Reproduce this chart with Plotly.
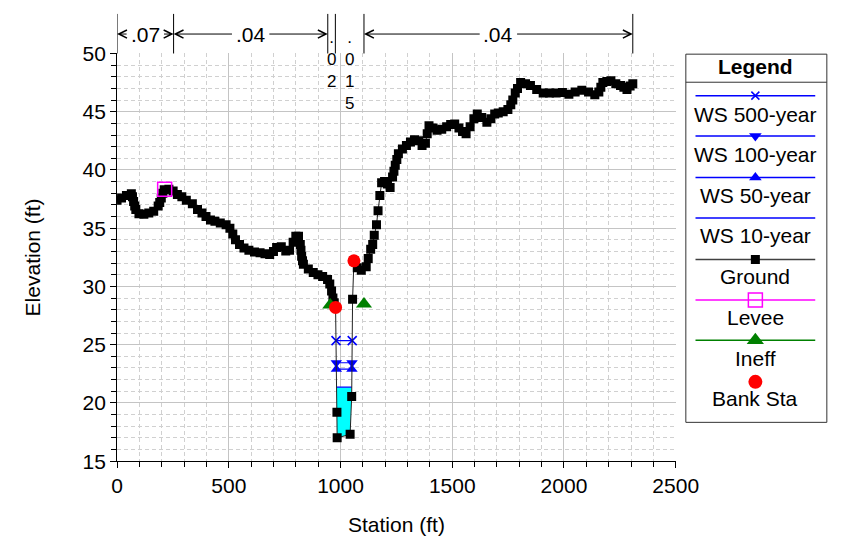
import numpy as np
import plotly.graph_objects as go

W, H = 845, 549

# ---------------- data ----------------
station = [0, 20, 42, 64, 69, 74, 79, 84, 98, 120, 142, 164, 184, 191, 198, 205, 211, 232, 251,
           270, 290, 310, 337, 360, 380, 398, 418, 438, 462, 488, 505, 518, 530, 548, 568, 590,
           615, 640, 662, 683, 700, 714, 735, 755, 772, 788, 800, 812, 820, 823, 826, 830, 834,
           856, 878, 899, 920, 942, 952, 960, 966, 972, 978, 984, 985, 1043, 1050, 1054, 1060,
           1075, 1093, 1115, 1124, 1135, 1144, 1151, 1161, 1168, 1176, 1184, 1197, 1210, 1222,
           1233, 1239, 1245, 1252, 1259, 1277, 1295, 1313, 1331, 1350, 1365, 1380, 1388, 1396,
           1414, 1432, 1453, 1475, 1493, 1511, 1530, 1546, 1562, 1580, 1597, 1612, 1632, 1655,
           1673, 1690, 1706, 1728, 1749, 1762, 1771, 1782, 1792, 1806, 1828, 1850, 1878, 1907,
           1935, 1965, 1993, 2022, 2050, 2080, 2110, 2138, 2156, 2165, 2174, 2192, 2210, 2232,
           2253, 2268, 2282, 2296, 2308]
elevation = [37.4, 37.6, 37.8, 37.95, 37.7, 37.3, 36.9, 36.6, 36.25, 36.2, 36.3, 36.45, 36.9,
             37.2, 37.6, 38.0, 38.3, 38.35, 38.2, 37.9, 37.7, 37.4, 37.1, 36.6, 36.3, 36.0, 35.7,
             35.6, 35.45, 35.3, 35.0, 34.5, 34.0, 33.6, 33.3, 33.1, 32.95, 32.9, 32.8, 32.75,
             33.0, 33.35, 33.4, 33.05, 33.1, 33.8, 34.3, 34.3, 33.6, 33.1, 32.6, 32.2, 31.9,
             31.5, 31.2, 31.0, 30.85, 30.6, 30.2, 29.6, 29.0, 28.6, 28.2, 19.2, 17.0, 17.3,
             20.55, 28.9, 32.2, 31.6, 31.4, 31.7, 32.4, 33.2, 33.6, 34.4, 35.3, 36.5, 37.8,
             38.9, 39.0, 38.8, 38.5, 39.4, 39.9, 40.4, 40.9, 41.4, 41.8, 42.1, 42.4, 42.6, 42.5,
             42.1, 42.3, 43.1, 43.8, 43.6, 43.4, 43.5, 43.7, 43.9, 43.95, 43.6, 43.3, 43.1,
             43.7, 44.4, 44.8, 44.5, 44.1, 44.4, 44.8, 44.9, 45.0, 45.2, 45.6, 46.0, 46.6, 47.0,
             47.5, 47.4, 47.25, 46.9, 46.6, 46.6, 46.6, 46.65, 46.5, 46.7, 46.85, 46.7, 46.45,
             46.7, 47.1, 47.5, 47.6, 47.65, 47.4, 47.25, 47.1, 46.9, 47.2, 47.4]

levee_sta = [213]
levee_elev = [38.35]
bank_sta = [978, 1060]
bank_elev = [28.2, 32.2]
ineff_sta = [954, 1105]
ineff_elev = [28.4, 28.5]

ws_names = ["WS 500-year", "WS 100-year", "WS 50-year", "WS 10-year"]
ws_elev = [25.35, 23.45, 22.9, 21.35]

n_bounds = [0, 253, 943, 977, 1105, 2308]
n_values = [".07", ".04", ".02", ".015", ".04"]

x_ticks = [0, 500, 1000, 1500, 2000, 2500]
y_ticks = [15, 20, 25, 30, 35, 40, 45, 50]

# ---------------- layout geometry (pixels) ----------------
PL, PR, PT, PB = 115.0, 693.5, 43.3, 468.8
FONT = "Liberation Sans, Arial, sans-serif"
FS = 21
BLUE = "#0000ff"


def px(v):
    return v / W


def py(v):
    return 1 - v / H


def wet_extent(ws):
    sta = np.array(station, float)
    el = np.array(elevation, float)
    i0 = int(np.argmin(el))
    i = i0
    while i > 0 and el[i - 1] < ws:
        i -= 1
    xl = sta[i - 1] + (ws - el[i - 1]) * (sta[i] - sta[i - 1]) / (el[i] - el[i - 1])
    j = i0
    while j < len(el) - 1 and el[j + 1] < ws:
        j += 1
    xr = sta[j] + (ws - el[j]) * (sta[j + 1] - sta[j]) / (el[j + 1] - el[j])
    return xl, xr, i, j


fig = go.Figure()

# water fill for the lowest profile
ws10 = ws_elev[3]
xl, xr, i, j = wet_extent(ws10)
poly_x = [xl] + station[i:j + 1] + [xr, xl]
poly_y = [ws10] + elevation[i:j + 1] + [ws10, ws10]
fig.add_trace(go.Scatter(x=poly_x, y=poly_y, mode="lines", fill="toself",
                         fillcolor="#00ffff", line=dict(color="rgba(0,0,0,0)", width=0),
                         hoverinfo="skip"))

ws_symbols = ["x-thin", "triangle-down", "triangle-up", None]
for name, ws, sym in zip(ws_names, ws_elev, ws_symbols):
    a, b, _, _ = wet_extent(ws)
    if sym is None:
        fig.add_trace(go.Scatter(x=[a, b], y=[ws, ws], mode="lines", name=name,
                                 line=dict(color=BLUE, width=1.2)))
    else:
        fig.add_trace(go.Scatter(x=[a, b], y=[ws, ws], mode="lines+markers", name=name,
                                 line=dict(color=BLUE, width=1.2),
                                 marker=dict(symbol=sym, size=10 if sym != "x-thin" else 9,
                                             color=BLUE,
                                             line=dict(color=BLUE, width=1.6 if sym == "x-thin" else 0))))

fig.add_trace(go.Scatter(x=station, y=elevation, mode="lines+markers", name="Ground",
                         line=dict(color="#222222", width=1),
                         marker=dict(symbol="square", size=9, color="black")))
fig.add_trace(go.Scatter(x=levee_sta, y=levee_elev, mode="markers", name="Levee",
                         marker=dict(symbol="square-open", size=14, color="#ff00ff",
                                     line=dict(color="#ff00ff", width=1.5))))
fig.add_trace(go.Scatter(x=ineff_sta, y=ineff_elev, mode="markers", name="Ineff",
                         marker=dict(symbol="triangle-up", size=14, color="#008000")))
fig.add_trace(go.Scatter(x=bank_sta, y=bank_elev, mode="markers", name="Bank Sta",
                         marker=dict(symbol="circle", size=13, color="#ff0000")))

# ---------------- custom legend (pixel-unit helper axes) ----------------
LX0, LX1, LY0, LY1 = 704.0, 850, 44.0, 428.3
legend_items = [
    ("WS 500-year", 87.3, 106.7, BLUE, "x-thin", 8, True),
    ("WS 100-year", 129.3, 148.3, BLUE, "triangle-down", 11, True),
    ("WS 50-year", 172.7, 191.7, BLUE, "triangle-up", 11, True),
    ("WS 10-year", 215.0, 233.3, BLUE, None, 0, True),
    ("Ground", 258.3, 276.0, "#404040", "square", 9, True),
    ("Levee", 300.7, 319.3, "#ff00ff", "square-open", 14, True),
    ("Ineff", 342.7, 361.7, "#008000", "triangle-up", 15, True),
    ("Bank Sta", 386.0, 403.3, "#ff0000", "circle", 14, False),
]
mcol = {"square": "black"}
for label, ly, ty, col, sym, size, has_line in legend_items:
    if has_line:
        fig.add_trace(go.Scatter(x=[714, 838], y=[ly, ly], xaxis="x2", yaxis="y2",
                                 mode="lines", line=dict(color=col, width=1.5), hoverinfo="skip"))
    if sym:
        c = mcol.get(sym, col)
        fig.add_trace(go.Scatter(x=[776], y=[ly], xaxis="x2", yaxis="y2", mode="markers",
                                 marker=dict(symbol=sym, size=size, color=c,
                                             line=dict(color=c, width=1.5 if ("open" in sym or "thin" in sym) else 0)),
                                 hoverinfo="skip"))

annotations = []
shapes = []
for label, ly, ty, col, sym, size, has_line in legend_items:
    annotations.append(dict(text=label, x=776, y=ty, xref="x2", yref="y2", showarrow=False,
                            font=dict(family=FONT, size=FS, color="black"),
                            xanchor="center", yanchor="middle"))
annotations.append(dict(text="<b>Legend</b>", x=776, y=57, xref="x2", yref="y2", showarrow=False,
                        font=dict(family=FONT, size=FS, color="black"),
                        xanchor="center", yanchor="middle"))
shapes.append(dict(type="rect", xref="paper", yref="paper", x0=px(LX0), x1=px(LX1),
                   y0=py(LY1), y1=py(LY0), line=dict(color="#333333", width=1)))
shapes.append(dict(type="line", xref="paper", yref="paper", x0=px(LX0), x1=px(LX1),
                   y0=py(73.3), y1=py(73.3), line=dict(color="#333333", width=1)))

# ---------------- Manning's n zones above the plot ----------------
for b in n_bounds:
    shapes.append(dict(type="line", xref="x", yref="paper", x0=b, x1=b,
                       y0=py(PT), y1=py(2), line=dict(color="black", width=1)))

scale = (PR - PL) / 2500.0
ARROW_Y = 23
for (a, b), txt in zip(zip(n_bounds[:-1], n_bounds[1:]), n_values):
    width_px = (b - a) * scale
    c = (a + b) / 2
    if width_px > 45:
        annotations.append(dict(text=txt, x=c, y=py(ARROW_Y), xref="x", yref="paper",
                                showarrow=False, font=dict(family=FONT, size=FS, color="black"),
                                xanchor="center", yanchor="middle"))
        half = (len(txt) * 0.47 * FS) / 2 + 3
        half_sta = half / scale
        for head, tail in ((a, c - half_sta), (b, c + half_sta)):
            annotations.append(dict(text="", x=head, y=py(ARROW_Y), xref="x", yref="paper",
                                    ax=tail, ay=0, axref="x", ayref="pixel",
                                    showarrow=True, arrowhead=5, arrowsize=1.6,
                                    arrowwidth=1, arrowcolor="black"))
    else:
        # narrow zone: characters stacked vertically in one text, as in the reference
        annotations.append(dict(text="<br>".join(list(txt)), x=c, y=py(16), xref="x",
                                yref="paper", showarrow=False,
                                font=dict(family=FONT, size=17, color="black"),
                                xanchor="center", yanchor="top", align="center", borderpad=0))

# axis titles
annotations.append(dict(text="Station (ft)", x=px((PL + PR) / 2), y=py(535), xref="paper",
                        yref="paper", showarrow=False, font=dict(family=FONT, size=FS),
                        xanchor="center", yanchor="middle"))
annotations.append(dict(text="Elevation (ft)", x=px(27), y=py((PT + PB) / 2), xref="paper",
                        yref="paper", showarrow=False, textangle=-90,
                        font=dict(family=FONT, size=FS), xanchor="center", yanchor="middle"))

axis_common = dict(showline=True, linecolor="black", linewidth=1, ticks="outside",
                   ticklen=6, tickcolor="black", showgrid=True, gridcolor="#c4c4c4",
                   gridwidth=1, zeroline=False, tickfont=dict(family=FONT, size=FS, color="black"))

fig.update_layout(
    width=W, height=H, margin=dict(l=0, r=0, t=0, b=0),
    paper_bgcolor="white", plot_bgcolor="white", showlegend=False,
    font=dict(family=FONT, size=FS, color="black"),
    xaxis=dict(domain=[px(PL), px(PR)], range=[0, 2500], tickvals=x_ticks,
               minor=dict(dtick=100, tick0=0, ticklen=5, tickcolor="black", ticks="outside",
                          showgrid=True, gridcolor="#d0d0d0", griddash="4px,3px"),
               anchor="y", **axis_common),
    yaxis=dict(domain=[py(PB), py(PT)], range=[15, 50], tickvals=y_ticks,
               minor=dict(dtick=1, tick0=15, ticklen=5, tickcolor="black", ticks="outside",
                          showgrid=True, gridcolor="#d0d0d0", griddash="4px,3px"),
               anchor="x", **axis_common),
    xaxis2=dict(domain=[px(LX0), 1], range=[LX0, W], visible=False, anchor="y2"),
    yaxis2=dict(domain=[py(LY1), py(LY0)], range=[LY1, LY0], visible=False, anchor="x2"),
    annotations=annotations, shapes=shapes,
)

fig.write_html("out.html", config={"displayModeBar": False},
               post_script="document.body.style.margin='0';document.body.style.overflow='hidden';")
